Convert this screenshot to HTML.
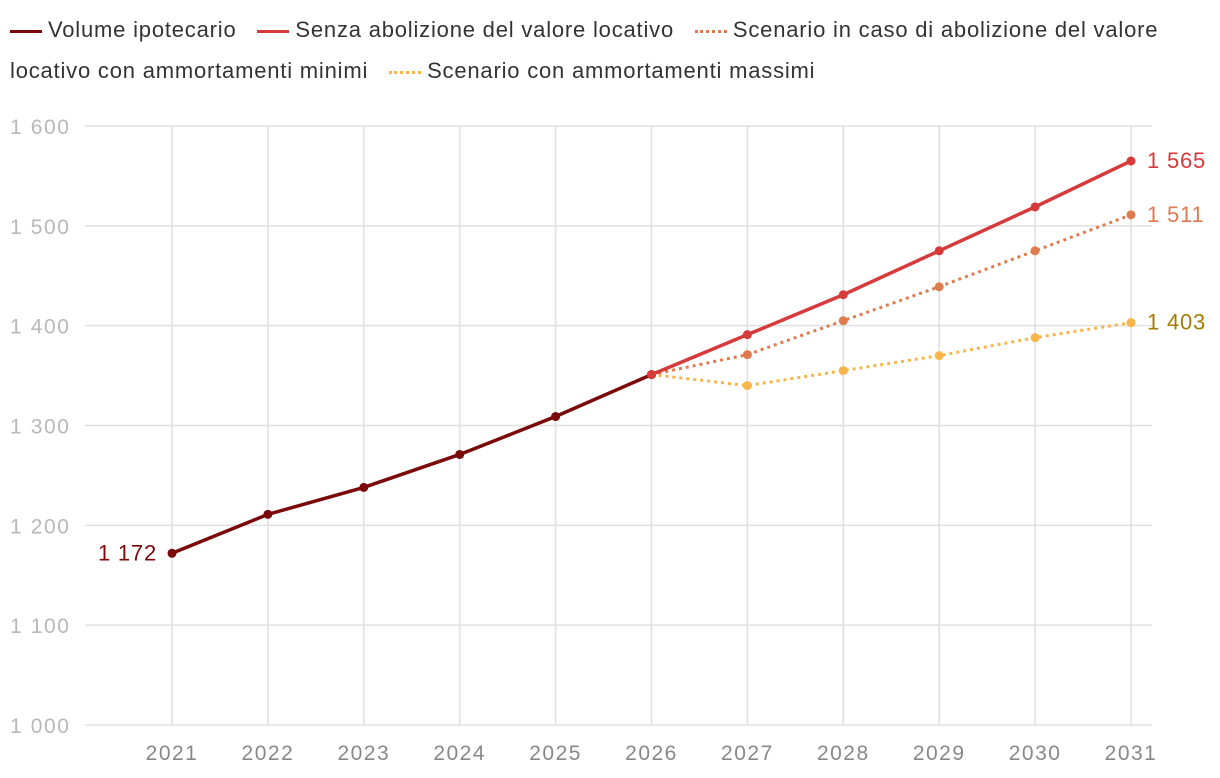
<!DOCTYPE html>
<html><head><meta charset="utf-8"><style>
body{margin:0;background:#fff;width:1220px;height:778px;overflow:hidden;font-family:"Liberation Sans",sans-serif}
.leg{position:absolute;left:10px;top:9px;width:1205px;font-size:22px;letter-spacing:0.8px;color:#333;line-height:41px}
.li{display:inline-block;margin-right:14px;white-space:nowrap}
.sw{display:inline-block;width:32px;height:0;border-top:3px solid;vertical-align:middle;margin-right:6px}
</style></head><body>
<div class="leg">
<span class="li"><span class="sw" style="border-color:#7a0a0a"></span>Volume ipotecario</span>
<span class="li"><span class="sw" style="border-color:#d63a3a"></span>Senza abolizione del valore locativo</span>
<span><span class="sw" style="border-top:3px dotted #e07b4f"></span>Scenario in caso di abolizione del valore locativo con ammortamenti minimi</span>
<span class="li" style="margin-left:14px"><span class="sw" style="border-top:3px dotted #f7b54a"></span>Scenario con ammortamenti massimi</span>
</div>
<svg id="c" width="1220" height="778" style="position:absolute;left:0;top:0"></svg>
<script>
const years=[2021,2022,2023,2024,2025,2026,2027,2028,2029,2030,2031];
const yTicks=[1000,1100,1200,1300,1400,1500,1600];
const yTickLabels=["1 000","1 100","1 200","1 300","1 400","1 500","1 600"];
const volume=[1172,1211,1238,1271,1309,1351];
const senza=[null,null,null,null,null,1351,1391,1431,1475,1519,1565];
const minimi=[null,null,null,null,null,1351,1371,1405,1439,1475,1511];
const massimi=[null,null,null,null,null,1351,1340,1355,1370,1388,1403];
const NS="http://www.w3.org/2000/svg",svg=document.getElementById('c');
const X=i=>172+i*95.9, Y=v=>725-(v-1000)*0.9983;
function el(t,a,p){const e=document.createElementNS(NS,t);for(const k in a)e.setAttribute(k,a[k]);(p||svg).appendChild(e);return e;}
yTicks.forEach((t,i)=>{
 const l=el('line',{x1:85,x2:1152,y1:Y(t),y2:Y(t),stroke:'#e0e0e0','stroke-width':1.5});
 
 
 const tx=el('text',{x:10,y:Y(t)+8,'font-size':21,fill:'#b8b8b8','letter-spacing':'1.6'});tx.textContent=yTickLabels[i];
 
 
});
years.forEach((yr,i)=>{
 const l=el('line',{x1:X(i),x2:X(i),y1:126,y2:725,stroke:'#e0e0e0','stroke-width':1.5});
 
 
 const tx=el('text',{x:X(i),y:760,'font-size':21,fill:'#888','text-anchor':'middle','letter-spacing':'1.5'});tx.textContent=yr;
 
 
});
function series(vals,color,dash,name){
 const pts=[];vals.forEach((v,i)=>{if(v!=null)pts.push([X(i),Y(v)])});
 const p=el('polyline',{points:pts.map(p=>p.join(',')).join(' '),fill:'none',stroke:color,'stroke-width':dash?3:3.5,'stroke-dasharray':dash?'3 4':'none','stroke-linecap':'butt'});
 
 
 pts.forEach(q=>{const c=el('circle',{cx:q[0],cy:q[1],r:4.5,fill:color});
 
 });
}
series(massimi,'#f7b54a',true,'massimi');
series(minimi,'#e07b4f',true,'minimi');
series(volume,'#7a0a0a',false,'volume');
series(senza,'#d63a3a',false,'senza');
function lab(txt,x,y,color,anchor,name){const t=el('text',{x:x,y:y,'font-size':22,fill:color,'text-anchor':anchor,'letter-spacing':'0.8'});t.textContent=txt;
 
 }
const fmt=v=>String(v).replace(/\B(?=(\d{3})+(?!\d))/g,' ');
lab(fmt(volume[0]),157,Y(volume[0])+7,'#7a0a0a','end','label-volume-2021');
lab(fmt(senza[10]),1147,Y(senza[10])+7,'#d63a3a','start','label-senza-2031');
lab(fmt(minimi[10]),1147,Y(minimi[10])+7,'#e07b4f','start','label-minimi-2031');
lab(fmt(massimi[10]),1147,Y(massimi[10])+7,'#a67c00','start','label-massimi-2031');
</script>
</body></html>
